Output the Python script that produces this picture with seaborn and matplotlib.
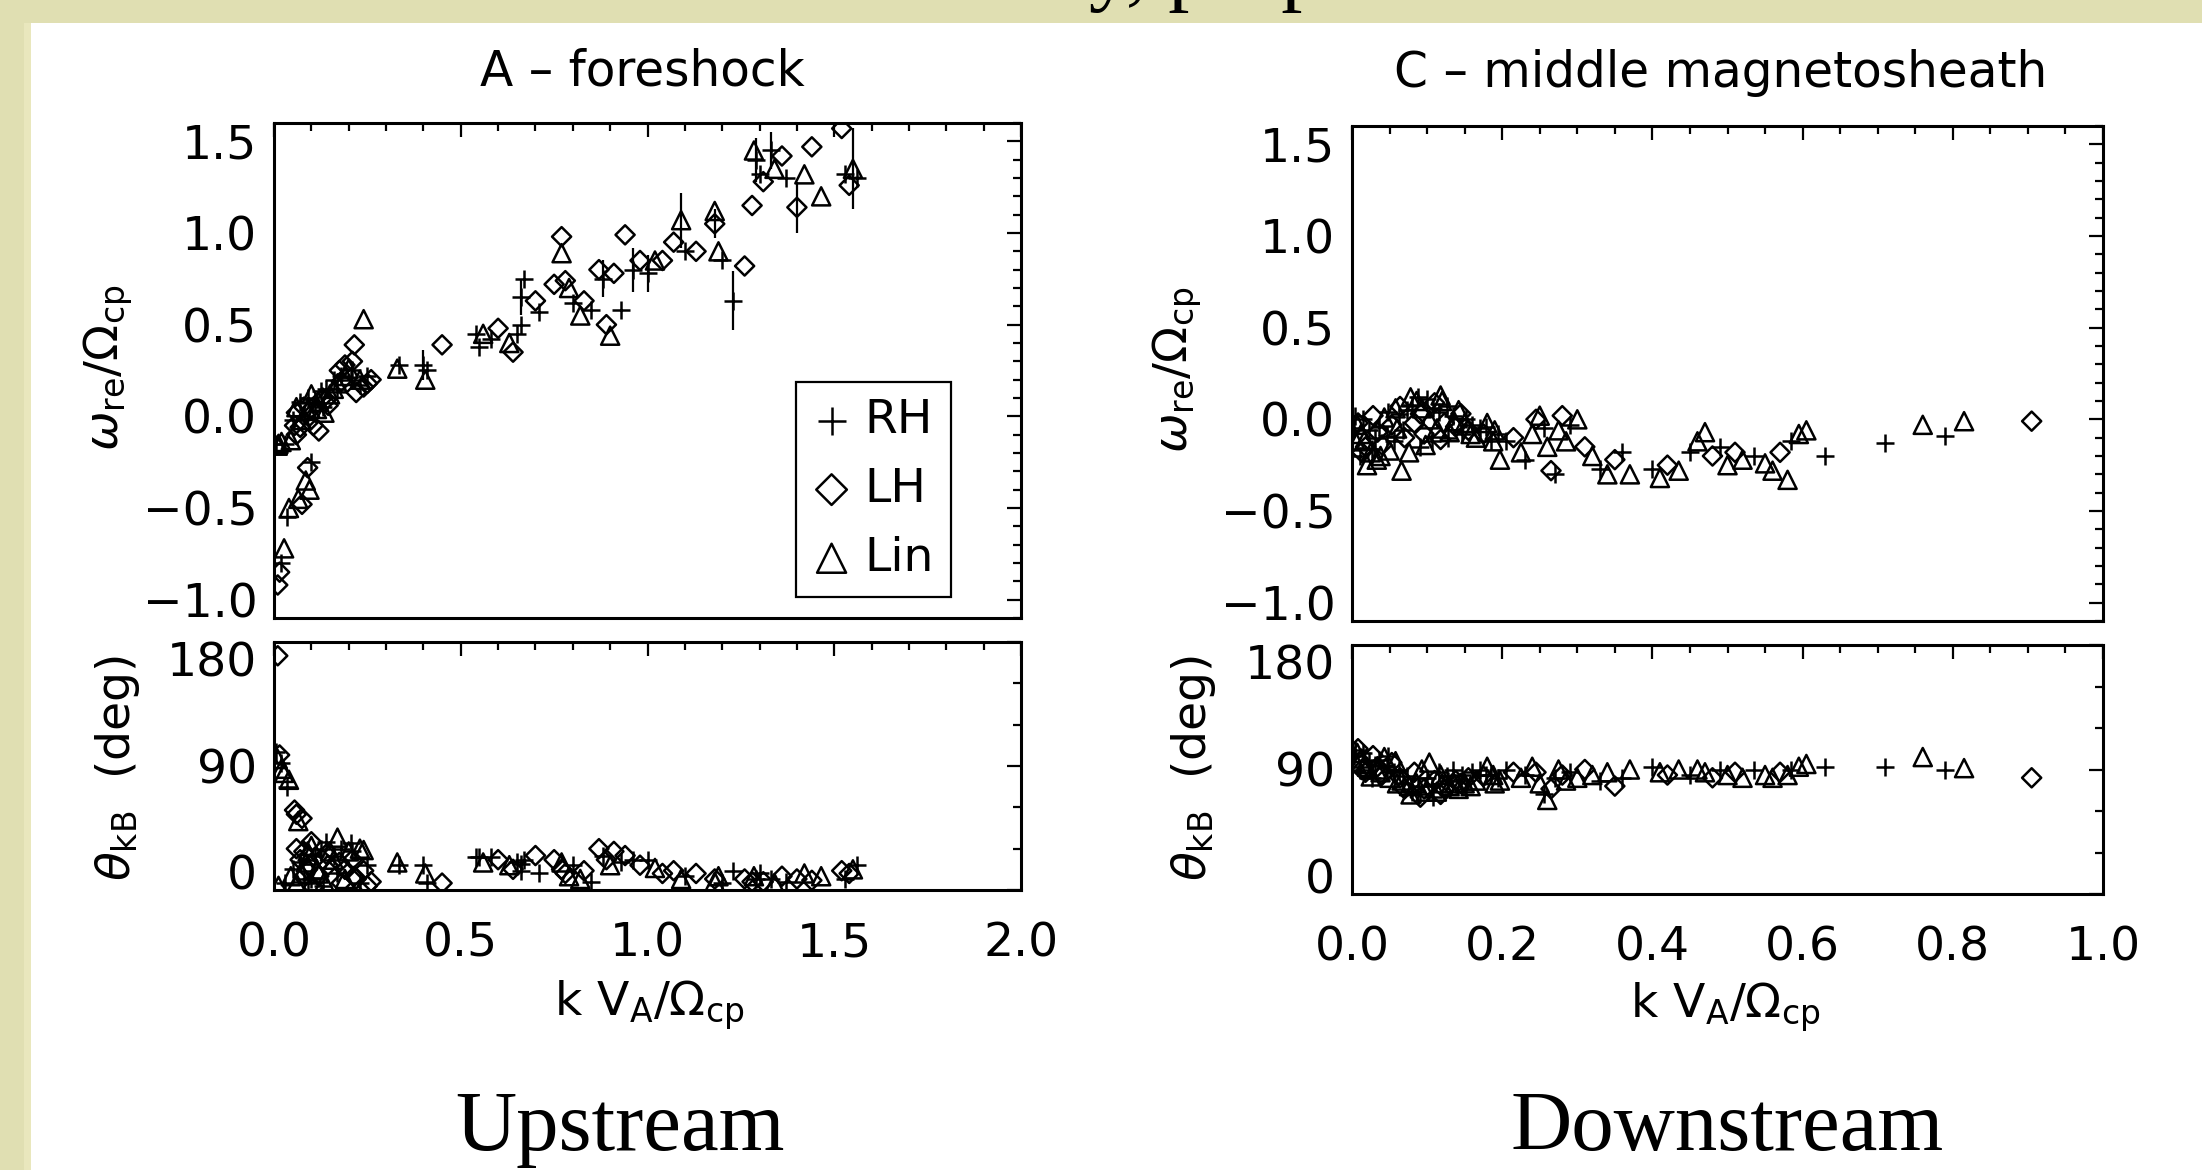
import matplotlib
matplotlib.use("Agg")
import matplotlib.pyplot as plt
import seaborn as sns
import pandas as pd
from matplotlib.ticker import MultipleLocator, FixedLocator, FuncFormatter
from matplotlib.patches import Rectangle

# ---------------- data: A - foreshock (upstream) ----------------
A_RH_k = [0.020, 0.035, 0.005, 0.030, 0.100, 0.07, 0.09, 0.11, 0.125, 0.14,
          0.16, 0.18, 0.205, 0.23, 0.335, 0.40, 0.41, 0.54, 0.55, 0.58,
          0.65, 0.66, 0.66, 0.67, 0.71, 0.80, 0.85, 0.88, 0.93, 0.96,
          1.00, 1.10, 1.20, 1.23, 1.29, 1.30, 1.33, 1.37, 1.53, 1.56,
          0.05, 0.08, 0.13, 0.17, 0.21, 0.25]
A_RH_w = [-0.80, -0.55, -0.15, -0.15, -0.25, 0.08, 0.10, 0.08, 0.14, 0.15,
          0.20, 0.22, 0.20, 0.17, 0.28, 0.28, 0.25, 0.45, 0.38, 0.42,
          0.45, 0.50, 0.65, 0.75, 0.57, 0.62, 0.58, 0.75, 0.58, 0.80,
          0.78, 0.90, 0.85, 0.63, 1.40, 1.32, 1.45, 1.30, 1.32, 1.30,
          -0.02, 0.00, 0.05, 0.15, 0.25, 0.22]
A_RH_th = [92, 75, 100, 5, 8, 20, 5, 25, 30, 35,
           25, 30, 34, 5, 18, 18, 5, 24, 24, 24,
           20, 19, 14, 22, 12, 18, 6, 25, 20, 22,
           22, 10, 5, 14, 8, 12, 8, 6, 8, 18,
           15, 8, 3, 12, 28, 18]

A_LH_k = [0.010, 0.015, 0.055, 0.060, 0.075, 0.090, 0.06, 0.08, 0.095, 0.105,
          0.12, 0.13, 0.145, 0.175, 0.19, 0.21, 0.215, 0.22, 0.25, 0.26,
          0.45, 0.60, 0.64, 0.70, 0.75, 0.77, 0.78, 0.83, 0.87, 0.89,
          0.91, 0.94, 0.98, 1.04, 1.07, 1.13, 1.18, 1.26, 1.28, 1.31,
          1.36, 1.40, 1.44, 1.52, 1.54,
          0.07, 0.10, 0.14, 0.18, 0.24]
A_LH_w = [-0.92, -0.85, -0.05, -0.10, -0.48, -0.28, 0.02, 0.05, 0.00, -0.05,
          -0.08, 0.10, 0.06, 0.25, 0.28, 0.30, 0.39, 0.13, 0.18, 0.20,
          0.39, 0.48, 0.35, 0.63, 0.72, 0.98, 0.74, 0.63, 0.80, 0.50,
          0.78, 0.99, 0.85, 0.85, 0.95, 0.90, 1.05, 0.82, 1.15, 1.28,
          1.42, 1.14, 1.47, 1.57, 1.26,
          -0.06, 0.04, 0.09, 0.19, 0.16]
A_LH_th = [170, 98, 58, 55, 52, 15, 30, 28, 18, 2,
           10, 22, 18, 20, 15, 22, 10, 8, 3, 6,
           5, 22, 15, 25, 22, 15, 12, 14, 30, 22,
           28, 25, 18, 12, 14, 12, 8, 8, 6, 6,
           10, 8, 7, 14, 12,
           22, 35, 26, 5, 14]

A_Lin_k = [0.027, 0.040, 0.010, 0.020, 0.045, 0.065, 0.085, 0.095, 0.075, 0.10,
           0.115, 0.135, 0.15, 0.17, 0.20, 0.24, 0.33, 0.405, 0.56, 0.63,
           0.77, 0.79, 0.82, 0.90, 1.02, 1.09, 1.18, 1.19, 1.285, 1.34,
           1.42, 1.465, 1.55,
           0.06, 0.09, 0.12, 0.16, 0.19, 0.23, 0.012]
A_Lin_w = [-0.72, -0.50, -0.16, -0.14, -0.13, -0.45, -0.35, -0.40, -0.02, 0.12,
           0.04, 0.02, 0.12, 0.18, 0.26, 0.53, 0.26, 0.20, 0.45, 0.40,
           0.89, 0.70, 0.55, 0.44, 0.85, 1.07, 1.12, 0.90, 1.45, 1.35,
           1.32, 1.20, 1.35,
           0.05, 0.03, 0.08, 0.15, 0.22, 0.20, -0.15]
A_Lin_th = [85, 80, 95, 88, 10, 50, 20, 25, 12, 32,
            15, 6, 28, 38, 28, 29, 20, 12, 20, 18,
            20, 10, 8, 18, 16, 8, 6, 10, 10, 5,
            12, 10, 15,
            5, 28, 12, 22, 8, 30, 3]

# error bars on omega (upstream)
A_err_k = [0.40, 0.66, 0.88, 0.96, 1.00, 1.09, 1.18, 1.23, 1.29, 1.33, 1.40, 1.55]
A_err_w = [0.28, 0.65, 0.75, 0.80, 0.78, 1.07, 1.05, 0.63, 1.40, 1.45, 1.14, 1.35]
A_err_d = [0.08, 0.10, 0.10, 0.12, 0.10, 0.15, 0.08, 0.16, 0.12, 0.10, 0.14, 0.22]

# ---------------- data: C - middle magnetosheath (downstream) ----------------
C_RH_k = [0.002, 0.010, 0.015, 0.022, 0.030, 0.036, 0.046, 0.056, 0.063, 0.073,
          0.080, 0.090, 0.100, 0.106, 0.116, 0.126, 0.134, 0.146, 0.160, 0.170,
          0.185, 0.205, 0.230, 0.255, 0.270, 0.290, 0.330, 0.360, 0.400, 0.450,
          0.490, 0.535, 0.585, 0.63, 0.71, 0.79,
          0.004, 0.026, 0.048, 0.068, 0.088, 0.108, 0.128, 0.152, 0.178, 0.195]
C_RH_w = [-0.05, -0.20, 0.00, -0.06, -0.10, -0.04, -0.09, -0.12, 0.03, 0.05,
          0.08, -0.15, 0.11, -0.12, 0.04, 0.07, 0.02, -0.08, -0.03, -0.05,
          -0.12, -0.12, -0.22, -0.05, -0.30, -0.03, -0.27, -0.18, -0.27, -0.18,
          -0.15, -0.20, -0.12, -0.20, -0.13, -0.09,
          0.02, -0.16, 0.04, -0.06, 0.12, 0.06, -0.10, 0.00, -0.04, -0.08]
C_RH_th = [100, 90, 102, 96, 93, 97, 92, 88, 90, 85,
           74, 72, 84, 78, 88, 85, 90, 86, 88, 90,
           86, 90, 86, 72, 84, 88, 82, 84, 92, 86,
           90, 90, 90, 92, 92, 90,
           104, 84, 100, 80, 78, 70, 82, 76, 86, 84]

C_LH_k = [0.008, 0.018, 0.028, 0.040, 0.053, 0.070, 0.083, 0.096, 0.110, 0.123,
          0.138, 0.155, 0.175, 0.215, 0.245, 0.265, 0.280, 0.310, 0.350, 0.420,
          0.480, 0.510, 0.570, 0.905,
          0.013, 0.034, 0.064, 0.091, 0.118, 0.145]
C_LH_w = [-0.02, -0.15, 0.02, -0.14, -0.03, -0.10, -0.02, -0.08, 0.09, -0.02,
          -0.04, -0.06, -0.08, -0.10, 0.00, -0.28, 0.02, -0.15, -0.22, -0.25,
          -0.20, -0.18, -0.18, -0.01,
          -0.18, -0.07, 0.07, 0.03, -0.11, 0.03]
C_LH_th = [105, 88, 100, 86, 95, 76, 88, 76, 82, 76,
           82, 84, 85, 88, 88, 76, 86, 90, 78, 86,
           84, 88, 88, 84,
           90, 92, 84, 70, 72, 80]

C_Lin_k = [0.005, 0.012, 0.020, 0.025, 0.033, 0.043, 0.050, 0.060, 0.066, 0.076,
           0.086, 0.093, 0.103, 0.113, 0.120, 0.130, 0.142, 0.150, 0.165, 0.180,
           0.190, 0.197, 0.225, 0.240, 0.250, 0.260, 0.275, 0.285, 0.300, 0.320,
           0.340, 0.370, 0.410, 0.435, 0.460, 0.470, 0.500, 0.520, 0.550, 0.560,
           0.580, 0.595, 0.605, 0.76, 0.815,
           0.007, 0.017, 0.038, 0.058, 0.078, 0.098, 0.118, 0.136, 0.158, 0.188]
C_Lin_w = [-0.12, -0.08, -0.25, -0.18, -0.22, 0.01, -0.17, -0.05, -0.28, -0.18,
           0.10, 0.06, 0.00, -0.05, 0.10, -0.07, 0.05, -0.02, -0.10, -0.02,
           -0.06, -0.22, -0.18, -0.08, 0.02, -0.15, -0.06, -0.12, 0.00, -0.20,
           -0.30, -0.30, -0.32, -0.28, -0.12, -0.07, -0.25, -0.22, -0.24, -0.28,
           -0.33, -0.08, -0.06, -0.03, -0.01,
           -0.03, -0.11, -0.20, 0.06, 0.12, -0.14, 0.13, -0.01, -0.08, -0.12]
C_Lin_th = [95, 98, 92, 85, 90, 99, 84, 80, 82, 78,
            80, 90, 95, 74, 80, 78, 76, 80, 82, 92,
            80, 82, 84, 92, 80, 68, 90, 82, 84, 86,
            88, 90, 88, 90, 90, 88, 86, 84, 86, 84,
            86, 92, 94, 99, 91,
            102, 94, 88, 96, 72, 74, 86, 80, 78, 86]

POLS = ["RH", "LH", "Lin"]
A_title = "A \u2013 foreshock"
C_title = "C \u2013 middle magnetosheath"
A_xticks = [0.0, 0.5, 1.0, 1.5, 2.0]
C_xticks = [0.0, 0.2, 0.4, 0.6, 0.8, 1.0]
W_yticks = [-1.0, -0.5, 0.0, 0.5, 1.0, 1.5]
TH_yticks = [0, 90, 180]

# ---------------- style ----------------
sns.set_theme(style="white")
plt.rcParams["font.family"] = ["DejaVu Sans"]
plt.rcParams["mathtext.fontset"] = "dejavusans"
for key in ["axes.edgecolor", "text.color", "xtick.color", "ytick.color", "axes.labelcolor"]:
    plt.rcParams[key] = "black"

W, H = 2202, 1170
fig = plt.figure(figsize=(W / 100, H / 100), dpi=100, facecolor="white")

BEIGE = "#E0DFB2"
fig.add_artist(Rectangle((0, 1 - 23 / H), 1, 23 / H, transform=fig.transFigure,
                         facecolor=BEIGE, edgecolor="none", zorder=0))
fig.add_artist(Rectangle((0, 0), 24 / W, 1, transform=fig.transFigure,
                         facecolor=BEIGE, edgecolor="none", zorder=0))
fig.add_artist(Rectangle((24 / W, 0), 7 / W, 1 - 23 / H, transform=fig.transFigure,
                         facecolor="#E9E7BD", edgecolor="none", zorder=0))


def box(x0, y0, x1, y1):
    return [x0 / W, 1 - y1 / H, (x1 - x0) / W, (y1 - y0) / H]


axTL = fig.add_axes(box(274, 123, 1021, 618))
axBL = fig.add_axes(box(274, 642, 1021, 890))
axTR = fig.add_axes(box(1352, 126, 2103, 621))
axBR = fig.add_axes(box(1352, 645, 2103, 894))

MARK = {"RH": "+", "LH": "D", "Lin": "^"}
SIZE = {"RH": 150, "LH": 95, "Lin": 170}
LW = 1.8


def series(ax, k, v, pol, label=None):
    df = pd.DataFrame({"k": k, "v": v})
    if pol == "RH":
        sns.scatterplot(data=df, x="k", y="v", ax=ax, marker=MARK[pol], s=SIZE[pol],
                        color="black", linewidth=LW, legend=False, label=label, zorder=3)
    else:
        sns.scatterplot(data=df, x="k", y="v", ax=ax, marker=MARK[pol], s=SIZE[pol],
                        color="black", facecolor="none", edgecolor="black",
                        linewidth=LW, legend=False, label=label, zorder=3)


A = {"RH": (A_RH_k, A_RH_w, A_RH_th), "LH": (A_LH_k, A_LH_w, A_LH_th),
     "Lin": (A_Lin_k, A_Lin_w, A_Lin_th)}
C = {"RH": (C_RH_k, C_RH_w, C_RH_th), "LH": (C_LH_k, C_LH_w, C_LH_th),
     "Lin": (C_Lin_k, C_Lin_w, C_Lin_th)}

axTL.errorbar(A_err_k, A_err_w, yerr=A_err_d, fmt="none", ecolor="black",
              elinewidth=1.6, capsize=0, zorder=2)
for pol in POLS:
    k, w, th = A[pol]
    series(axTL, k, w, pol, label=pol)
    series(axBL, k, th, pol)
    k, w, th = C[pol]
    series(axTR, k, w, pol)
    series(axBR, k, th, pol)

FS = 34
fmt1 = FuncFormatter(lambda v, p: f"{v:.1f}".replace("-", "\u2212"))
fmt0 = FuncFormatter(lambda v, p: f"{v:.0f}")


def style(ax, xlim, xticks, xminor, ylim, yticks, yminor, xlab, yfmt):
    ax.set_xlim(xlim)
    ax.set_ylim(ylim)
    ax.xaxis.set_major_locator(FixedLocator(xticks))
    ax.xaxis.set_minor_locator(MultipleLocator(xminor))
    ax.yaxis.set_major_locator(FixedLocator(yticks))
    ax.yaxis.set_minor_locator(MultipleLocator(yminor))
    ax.xaxis.set_major_formatter(fmt1)
    ax.yaxis.set_major_formatter(yfmt)
    ax.tick_params(which="both", direction="in", top=True, right=True,
                   width=1.6, colors="black", labelsize=FS)
    ax.tick_params(which="major", length=10)
    ax.tick_params(which="minor", length=5.5)
    ax.tick_params(axis="x", pad=23, labelbottom=xlab)
    ax.tick_params(axis="y", pad=12)
    for s in ax.spines.values():
        s.set_linewidth(2.2)
        s.set_color("black")
        s.set_visible(True)
    ax.set_xlabel("")
    ax.set_ylabel("")
    ax.set_facecolor("white")


style(axTL, (0, 2), A_xticks, 0.1, (-1.1, 1.6), W_yticks, 0.1, False, fmt1)
style(axBL, (0, 2), A_xticks, 0.1, (0, 180), TH_yticks, 30, True, fmt0)
style(axTR, (0, 1), C_xticks, 0.05, (-1.1, 1.6), W_yticks, 0.1, False, fmt1)
style(axBR, (0, 1), C_xticks, 0.05, (0, 180), TH_yticks, 30, True, fmt0)

# legend
h, l = axTL.get_legend_handles_labels()
leg = axTL.legend(h, l, loc="upper left", bbox_to_anchor=(0.699, 0.477),
                  borderaxespad=0, fontsize=FS, markerscale=1.6, frameon=True,
                  fancybox=False, framealpha=1, edgecolor="black",
                  handlelength=0.8, handletextpad=0.3, borderpad=0.35,
                  labelspacing=0.5)
leg.get_frame().set_linewidth(1.6)

# titles and labels
fig.text(642 / W, 1 - 86 / H, A_title, ha="center", va="baseline", fontsize=35)
fig.text(1721 / W, 1 - 87 / H, C_title, ha="center", va="baseline", fontsize=35)

wlab = r"$\omega_{\rm re}/\Omega_{\rm cp}$"
tlab = r"$\theta_{\rm kB}$  (deg)"
xlab = r"k V$_{\rm A}$/$\Omega_{\rm cp}$"
fig.text(108 / W, 1 - 368 / H, wlab, rotation=90, ha="center", va="center", fontsize=FS)
fig.text(118 / W, 1 - 768 / H, tlab, rotation=90, ha="center", va="center", fontsize=FS)
fig.text(1177 / W, 1 - 370 / H, wlab, rotation=90, ha="center", va="center", fontsize=FS)
fig.text(1193 / W, 1 - 768 / H, tlab, rotation=90, ha="center", va="center", fontsize=FS)
fig.text(649 / W, 1 - 1005 / H, xlab, ha="center", va="center", fontsize=FS)
fig.text(1725 / W, 1 - 1007 / H, xlab, ha="center", va="center", fontsize=FS)

SERIF = ["Liberation Serif", "DejaVu Serif"]
fig.text(620 / W, 1 - 1150 / H, "Upstream", ha="center", va="baseline",
         fontsize=61, family=SERIF)
fig.text(1727 / W, 1 - 1150 / H, "Downstream", ha="center", va="baseline",
         fontsize=61, family=SERIF)
# slide title, mostly above the visible area (as in the reference)
fig.text(665 / W, 1 + 5 / H, "Wave activity, properties", ha="left", va="baseline",
         fontsize=61, family=SERIF)

# IDL-like placement of the end labels on the angle axes
fig.canvas.draw()
for ax in (axBL, axBR):
    ticks = ax.yaxis.get_major_ticks()
    ticks[0].label1.set_verticalalignment("baseline")
    ticks[-1].label1.set_verticalalignment("top")

fig.savefig("out.png", dpi=100, facecolor="white")
